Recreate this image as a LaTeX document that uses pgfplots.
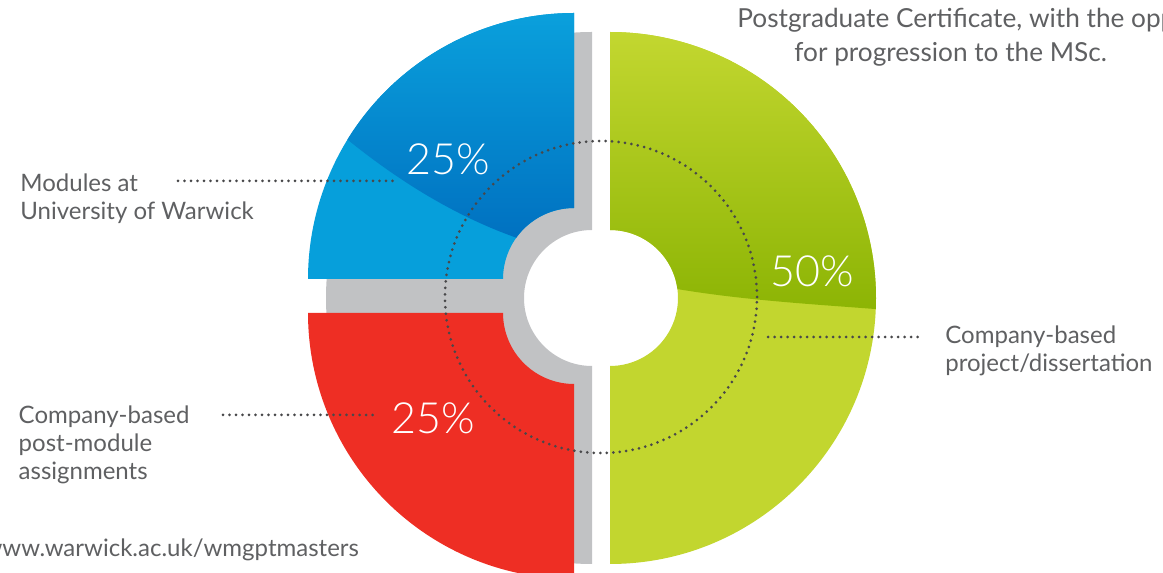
\documentclass[border=0pt]{standalone}
\usepackage{pgfplots}
\usepackage{pgfplotstable}
\pgfplotsset{compat=1.18}
\usepackage{fontspec}
\setmainfont{Lato}
\newfontfamily\lightfont{Lato Light}
\definecolor{graybg}{HTML}{C1C2C4}
\definecolor{blueflat}{HTML}{069FDB}
\definecolor{bluetop}{HTML}{0AA0DC}
\definecolor{bluebot}{HTML}{0070C0}
\definecolor{greenflat}{HTML}{C2D62F}
\definecolor{greentop}{HTML}{C3D730}
\definecolor{greenbot}{HTML}{8CB404}
\definecolor{redseg}{HTML}{EE2E24}
\definecolor{textgray}{HTML}{5F6062}
\definecolor{dotgray}{HTML}{48484A}

\pgfplotstableread{
part value
Modules 25
Assignments 25
Project 50
}\shares

\newcommand{\sectorpath}[6]{({#1+#4*cos(#5)},{#2+#4*sin(#5)}) arc[start angle=#5,end angle=#6,radius=#4*0.5pt] -- ({#1+#3*cos(#6)},{#2+#3*sin(#6)}) arc[start angle=#6,end angle=#5,radius=#3*0.5pt] -- cycle}

\tikzset{leader/.style={dotgray,line width=1.5pt,line cap=round,dash pattern=on 0pt off 3.25pt}}

\begin{document}%
\begin{tikzpicture}
\pgfplotstablegetelem{0}{value}\of\shares \pgfmathsetmacro\vA{\pgfplotsretval}
\pgfplotstablegetelem{1}{value}\of\shares \pgfmathsetmacro\vB{\pgfplotsretval}
\pgfplotstablegetelem{2}{value}\of\shares \pgfmathsetmacro\vC{\pgfplotsretval}
\pgfmathsetmacro\aZero{90}
\pgfmathsetmacro\aOne{\aZero+3.6*\vA}
\pgfmathsetmacro\aTwo{\aOne+3.6*\vB}
\pgfmathsetmacro\aThree{\aTwo+3.6*\vC}
\begin{axis}[x=0.5pt,y=0.5pt,xmin=0,xmax=1163,ymin=0,ymax=573,
  axis lines=none,xtick=\empty,ytick=\empty,
  enlargelimits=false,
  anchor=south west,at={(0,0)},clip=true]
% gray backing half ring
\fill[graybg] \sectorpath{592}{275}{68}{266}{90}{270};
% blue segment
\fill[blueflat] \sectorpath{574}{294}{71}{266}{\aZero}{\aOne};
\begin{scope}
\clip \sectorpath{574}{294}{71}{266}{\aZero}{\aOne};
\clip (250,490) -- (348,433) .. controls (405,387) and (462,354) .. (520,334) -- (600,334) -- (600,600) -- (250,600) -- cycle;
\shade[top color=bluetop,bottom color=bluebot] (290,330) rectangle (600,560);
\end{scope}
% red segment
\fill[redseg] \sectorpath{574}{260}{71}{266}{\aOne}{\aTwo};
% green segment
\fill[greenflat] \sectorpath{610}{275}{68}{266}{\aTwo}{\aThree};
\begin{scope}
\clip \sectorpath{610}{275}{68}{266}{\aTwo}{\aThree};
\clip (600,284) -- (677,284) .. controls (743,273) and (809,269) .. (875,264) -- (900,264) -- (900,600) -- (600,600) -- cycle;
\shade[top color=greentop,bottom color=greenbot] (600,262) rectangle (900,541);
\end{scope}
% dotted circle
\draw[leader] (601,276) circle[radius=78pt];
% leader lines
\addplot[leader] coordinates {(178,392) (393,392)};
\addplot[leader] coordinates {(223,158) (373,158)};
\addplot[leader] coordinates {(768,236) (920,236)};
% percentages
\begin{scope}[every node/.style={anchor=base,inner sep=0,text=white,font=\lightfont\fontsize{21.5}{25}\selectfont}]
\node at (448,398) {\vA\%};
\node at (433.5,139) {\vB\%};
\node at (812,286) {\vC\%};
\end{scope}
% labels
\begin{scope}[every node/.style={anchor=base west,inner sep=0,text=textgray,font=\fontsize{12}{14}\selectfont}]
\node at (20,381.3) {Modules at};
\node at (20,353.7) {University of Warwick};
\node at (18.3,149.7) {Company-based};
\node at (18.3,121.3) {post-module};
\node at (18.3,93) {assignments};
\node at (945,229.7) {Company-based};
\node at (945,201.3) {project/dissertation};
\node at (2,16.3) {\llap{w}ww.warwick.ac.uk/wmgptmasters};
\node[font=\fontsize{13.1}{15}\selectfont] at (737,545) {Postgraduate Certificate, with the opportunity};
\node[font=\fontsize{13.1}{15}\selectfont] at (794,511.3) {for progression to the MSc.};
\end{scope}
\end{axis}
\pgfresetboundingbox
\path[use as bounding box] (0,0) rectangle (581.5pt,286.5pt);
\end{tikzpicture}%
\end{document}
